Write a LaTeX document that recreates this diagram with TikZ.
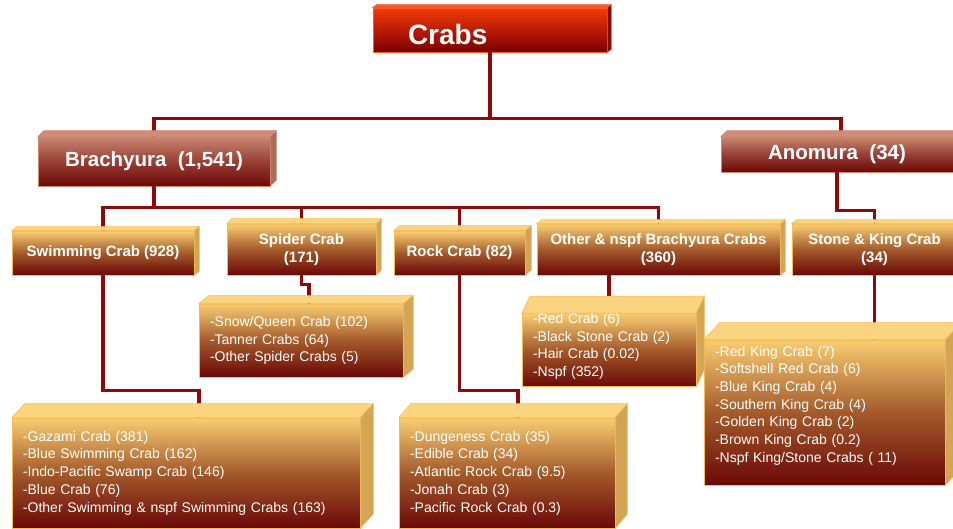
\documentclass[tikz,border=0pt]{standalone}
\usepackage{fontspec}
\setmainfont{Liberation Sans}

\definecolor{roottop}{HTML}{F23C08}
\definecolor{rootmid}{HTML}{B81C04}
\definecolor{rootbot}{HTML}{7A0000}
\definecolor{rootface}{HTML}{F65A2A}
\definecolor{rootside}{HTML}{8A0A00}
\definecolor{rootline}{HTML}{FF5A2A}
\definecolor{ordtop}{HTML}{C78670}
\definecolor{ordmid}{HTML}{983F35}
\definecolor{ordbot}{HTML}{6C0808}
\definecolor{ordface}{HTML}{CC8E78}
\definecolor{ordside}{HTML}{B06A58}
\definecolor{ordline}{HTML}{CD8A70}
\definecolor{grptop}{HTML}{F9CD72}
\definecolor{grpmid}{HTML}{A35A2B}
\definecolor{grpbot}{HTML}{6B0807}
\definecolor{grpface}{HTML}{FBD480}
\definecolor{grpside}{HTML}{D4A554}
\definecolor{grpline}{HTML}{F4BD58}
\definecolor{linkc}{HTML}{8E0A0A}

\begin{document}
\begin{tikzpicture}
[
x=1pt, y=-1pt,
link/.style={draw=linkc, line width=3.2pt},
sz/.style 2 args={minimum width=#1pt, minimum height=#2pt},
rootbox/.style={draw=rootline, line width=0.8pt, top color=roottop, bottom color=rootbot, middle color=rootmid,
                inner xsep=35pt, inner ysep=0pt, text width=164pt, align=left, text height=30pt, text depth=0pt,
                text=white, font=\bfseries\fontsize{28}{30}\selectfont},
orderbox/.style={draw=ordline, line width=0.6pt, top color=ordtop, bottom color=ordbot, middle color=ordmid,
                inner sep=0pt, text=white, font=\bfseries\fontsize{20.5}{24}\selectfont},
groupbox/.style={draw=grpline, line width=0.6pt, top color=grptop, bottom color=grpbot, middle color=grpmid,
                inner sep=0pt, align=center, text=white, font=\bfseries\fontsize{15}{18}\selectfont},
listbox/.style={draw=grpline, line width=0.6pt, top color=grptop, bottom color=grpbot, middle color=grpmid,
                inner xsep=11pt, inner ysep=0pt, text width=#1pt, align=left, text=white,
                font=\fontsize{14}{17.7}\selectfont},
]
\fill[white] (0,0) rectangle (953,529);
\useasboundingbox (0,0) rectangle (953,529);
\clip (0,0) rectangle (953,529);

%Place the nodes
\node[rootbox, sz={234}{44}] (crabs) at (490,30) {Crabs};
\node[orderbox, sz={232}{49}] (brach) at (154,161.5) {Brachyura~ (1,541)};
\node[orderbox, sz={232}{35}] (anom) at (837,154.5) {Anomura~ (34)};
\node[groupbox, sz={182}{44}] (swim) at (103,253) {Swimming Crab (928)};
\node[groupbox, sz={149}{51}] (spider) at (301.5,249.5) {Spider Crab\\(171)};
\node[groupbox, sz={131}{44}] (rock) at (459.5,253) {Rock Crab (82)};
\node[groupbox, sz={243}{51}] (other) at (658.5,249.5) {Other \& nspf Brachyura Crabs\\(360)};
\node[groupbox, sz={165}{51}] (stone) at (874.5,249.5) {Stone \& King Crab\\(34)};
\node[listbox=182, minimum height=73pt] (spiderlist) at (301,340.5)
  {-Snow/Queen Crab (102)\\-Tanner Crabs (64)\\-Other Spider Crabs (5)};
\node[listbox=152, minimum height=70pt, text depth=63pt] (otherlist) at (609,350)
  {-Red Crab (6)\\-Black Stone Crab (2)\\-Hair Crab (0.02)\\-Nspf (352)};
\node[listbox=219, minimum height=145pt, text depth=123pt] (kinglist) at (824.5,412.5)
  {-Red King Crab (7)\\-Softshell Red Crab (6)\\-Blue King Crab (4)\\-Southern King Crab (4)\\-Golden King Crab (2)\\-Brown King Crab (0.2)\\-Nspf King/Stone Crabs ( 11)};
\node[listbox=326, minimum height=110pt] (swimlist) at (186,473)
  {-Gazami Crab (381)\\-Blue Swimming Crab (162)\\-Indo-Pacific Swamp Crab (146)\\-Blue Crab (76)\\-Other Swimming \& nspf Swimming Crabs (163)};
\node[listbox=194, minimum height=110pt] (rocklist) at (507,473)
  {-Dungeness Crab (35)\\-Edible Crab (34)\\-Atlantic Rock Crab (9.5)\\-Jonah Crab (3)\\-Pacific Rock Crab (0.3)};

%Draw the connections
\draw[link] (crabs.south) -- ++(0,66) coordinate (topbus) -| (brach.north);
\draw[link] (topbus) -| ([xshift=4pt]anom.north);
\draw[link] (brach.south) -- ++(0,21) coordinate (brachbus) -| (swim.north);
\draw[link] (brachbus) -| (spider.north);
\draw[link] (brachbus) -| (rock.north);
\draw[link] (brachbus) -| (other.north);
\draw[link] (anom.south) -- ++(0,38) -| (stone.north);
\draw[link] (swim.south) -- ++(0,115) -| ([xshift=13pt]swimlist.north);
\draw[link] (spider.south) -- ++(0,9) -| ([xshift=8pt]spiderlist.north);
\draw[link] (rock.south) -- ++(0,115) -| ([xshift=11pt]rocklist.north);
\draw[link] (other.south -| otherlist.north) -- (otherlist.north);
\draw[link] (stone.south) -- (stone.south |- kinglist.north);

%Add the bevels
\foreach \nm/\dx/\dy/\sty in {crabs/4/3/root, brach/6/6/ord, anom/6/6/ord, swim/5/4/grp, spider/5/5/grp,
    rock/6/5/grp, other/5/4/grp, stone/5/4/grp, spiderlist/10/8/grp, otherlist/8/17/grp,
    kinglist/16/17/grp, swimlist/13/14/grp, rocklist/12/14/grp}
{
  \filldraw[fill=\sty face, draw=\sty line, line width=0.5pt] (\nm.north west) -- ++(\dx,-\dy)
    -- ([shift={(\dx,-\dy)}]\nm.north east) -- (\nm.north east) -- cycle;
  \filldraw[fill=\sty side, draw=\sty line, line width=0.5pt] (\nm.north east) -- ++(\dx,-\dy)
    -- ([shift={(\dx,-\dy)}]\nm.south east) -- (\nm.south east) -- cycle;
}
\end{tikzpicture}
\end{document}
